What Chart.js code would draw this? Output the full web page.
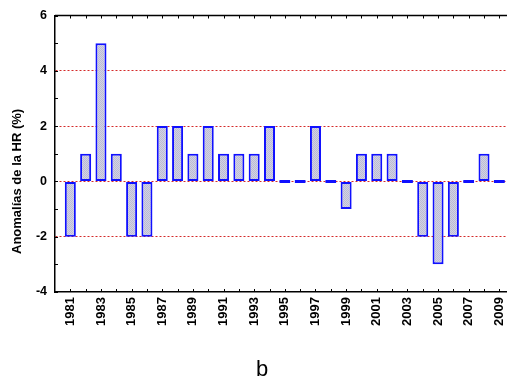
<!DOCTYPE html>
<html>
<head>
<meta charset="utf-8">
<script src="https://cdn.jsdelivr.net/npm/chart.js@4/dist/chart.umd.min.js"></script>
<style>
  html, body { margin: 0; padding: 0; background: #fff; overflow: hidden; }
  #wrap { position: relative; width: 507px; height: 390px; }
</style>
</head>
<body>
<div id="wrap"><canvas id="c" width="507" height="390"></canvas></div>
<script>
// Relative humidity anomalies per year (%)
const years = [1981, 1982, 1983, 1984, 1985, 1986, 1987, 1988, 1989, 1990,
               1991, 1992, 1993, 1994, 1995, 1996, 1997, 1998, 1999, 2000,
               2001, 2002, 2003, 2004, 2005, 2006, 2007, 2008, 2009];
const anomalies = [-2, 1, 5, 1, -2, -2, 2, 2, 1, 2,
                   1, 1, 1, 2, 0, 0, 2, 0, -1, 1,
                   1, 1, 0, -2, -3, -2, 0, 1, 0];
const xLabelYears = [1981, 1983, 1985, 1987, 1989, 1991, 1993, 1995, 1997, 1999,
                     2001, 2003, 2005, 2007, 2009];
const yLabelValues = [-4, -2, 0, 2, 4, 6];
const yGridValues = [-2, 0, 2, 4];
const yTitle = 'Anomalías de la HR (%)';
const panelLetter = 'b';

const FONT = 'Arial, "Liberation Sans", sans-serif';

const canvas = document.getElementById('c');
const ctx = canvas.getContext('2d');

// fine stipple fill for the bars
const pc = document.createElement('canvas');
pc.width = 2; pc.height = 2;
const pctx = pc.getContext('2d');
pctx.fillStyle = '#d2d2e4';
pctx.fillRect(0, 0, 2, 2);
pctx.fillStyle = '#bcbcd4';
pctx.fillRect(0, 0, 1, 1);
pctx.fillRect(1, 1, 1, 1);
const stipple = ctx.createPattern(pc, 'repeat');

// closed frame top edge, inward tick marks, rotated axis title and panel letter
const frameTicks = {
  id: 'frameTicks',
  afterDraw(chart) {
    const c = chart.ctx;
    const { left, right, top, bottom } = chart.chartArea;
    const xs = chart.scales.x, ys = chart.scales.y;
    c.save();
    c.strokeStyle = '#000';
    c.lineWidth = 1.5;
    c.beginPath();
    c.moveTo(left, top);
    c.lineTo(right, top);
    c.stroke();
    c.lineWidth = 1;
    c.beginPath();
    xs.ticks.forEach(t => {
      const px = Math.round(xs.getPixelForValue(t.value)) + 0.5;
      if (px <= left + 2) return;
      c.moveTo(px, top); c.lineTo(px, top + 3);
      c.moveTo(px, bottom); c.lineTo(px, bottom - 3);
    });
    ys.ticks.forEach(t => {
      const py = Math.round(ys.getPixelForValue(t.value)) + 0.5;
      c.moveTo(left, py); c.lineTo(left + 3, py);
    });
    c.stroke();

    c.fillStyle = '#000';
    c.textAlign = 'center';
    c.textBaseline = 'middle';
    c.font = 'bold 13px ' + FONT;
    c.translate(17, ys.getPixelForValue(0));
    c.rotate(-Math.PI / 2);
    c.fillText(yTitle, 0, 0);
    c.setTransform(1, 0, 0, 1, 0, 0);

    c.font = '22px ' + FONT;
    c.textBaseline = 'alphabetic';
    c.fillText(panelLetter, 262, 376);
    c.restore();
  }
};

new Chart(ctx, {
  type: 'bar',
  data: {
    datasets: [{
      data: years.map((yr, i) => ({ x: yr, y: anomalies[i] })),
      backgroundColor: stipple,
      borderColor: '#1010ff',
      borderWidth: 2,
      borderSkipped: false,
      minBarLength: 3,
      barPercentage: 0.9,
      categoryPercentage: 0.8
    }]
  },
  options: {
    responsive: false,
    animation: false,
    devicePixelRatio: 1,
    layout: { padding: { left: 0, top: 15, right: 0, bottom: 58 } },
    plugins: { legend: { display: false }, tooltip: { enabled: false } },
    scales: {
      x: {
        type: 'linear',
        offset: false,
        min: 1980,
        max: 2009.5,
        afterBuildTicks(scale) {
          const t = [];
          for (let v = 1980; v <= 2009; v++) t.push({ value: v });
          scale.ticks = t;
        },
        afterFit(scale) {
          scale.height = 40;
          scale.paddingRight = 0;
        },
        ticks: {
          autoSkip: false,
          minRotation: 90,
          maxRotation: 90,
          padding: 5,
          color: '#000',
          font: { family: FONT, size: 13, weight: 'bold' },
          callback: v => xLabelYears.includes(v) ? String(v) : ''
        },
        grid: { drawOnChartArea: false, drawTicks: false },
        border: { color: '#000', width: 1.5 }
      },
      y: {
        min: -4,
        max: 6,
        afterBuildTicks(scale) {
          const t = [];
          for (let v = -4; v <= 6; v++) t.push({ value: v });
          scale.ticks = t;
        },
        afterFit(scale) { scale.width = 55; },
        ticks: {
          padding: 8,
          color: '#000',
          font: { family: FONT, size: 12.5, weight: 'bold' },
          callback: v => yLabelValues.includes(v) ? String(v) : ''
        },
        grid: {
          drawTicks: false,
          lineWidth: 1,
          color: c => (c.tick && yGridValues.includes(c.tick.value)) ? '#d42a2a' : 'rgba(0,0,0,0)'
        },
        border: { color: '#000', width: 1.5, dash: [2, 2] }
      }
    }
  },
  plugins: [frameTicks]
});
</script>
</body>
</html>
